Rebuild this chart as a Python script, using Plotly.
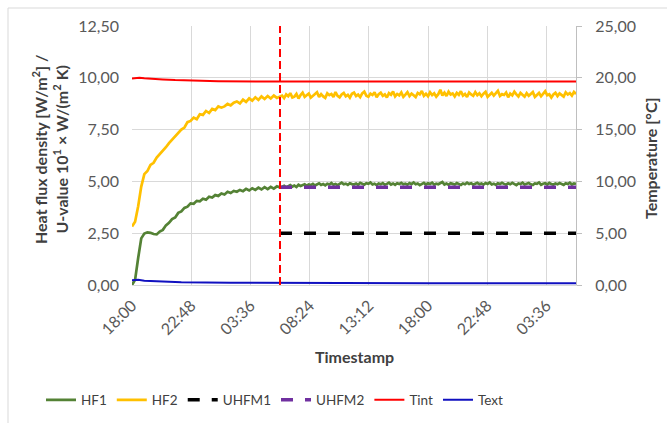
import pandas as pd
import plotly.graph_objects as go

# ---- measurement data -------------------------------------------------------
START = pd.Timestamp("2021-03-01 18:00")

# heat flux sensors [W/m²]
# warm-up phase: one reading every 15 minutes, hour 0 to hour 12
hf1_rise = [
    0.00, 0.25, 1.30, 2.25, 2.48, 2.54, 2.52, 2.46, 2.44, 2.58, 2.66, 2.88,
    3.00, 3.18, 3.26, 3.48, 3.55, 3.72, 3.78, 3.94, 3.92, 4.06, 4.04, 4.16,
    4.12, 4.26, 4.22, 4.34, 4.30, 4.42, 4.37, 4.50, 4.44, 4.54, 4.50, 4.59,
    4.53, 4.64, 4.56, 4.67, 4.59, 4.70, 4.61, 4.72, 4.63, 4.74, 4.65, 4.76,
    4.70,
]
hf2_rise = [
    2.82, 3.05, 3.80, 4.75, 5.35, 5.50, 5.80, 5.90, 6.15, 6.30, 6.50, 6.65,
    6.85, 7.02, 7.18, 7.32, 7.50, 7.60, 7.86, 7.92, 8.08, 8.00, 8.24, 8.21,
    8.40, 8.30, 8.50, 8.44, 8.62, 8.56, 8.62, 8.74, 8.67, 8.80, 8.86, 8.76,
    8.95, 8.84, 9.01, 8.90, 9.06, 8.93, 9.10, 8.98, 9.12, 9.00, 9.14, 9.03,
    9.10,
]
# steady phase: one reading every 10 minutes, 12:10 h to 36 h
hf1_steady = [
    4.74, 4.79, 4.71, 4.77, 4.82, 4.75, 4.80, 4.73, 4.84, 4.78, 4.81, 4.86,
    4.79, 4.85, 4.82, 4.88, 4.80, 4.84, 4.91, 4.83, 4.87, 4.81, 4.89, 4.85,
    4.92, 4.84, 4.88, 4.82, 4.90, 4.94, 4.86, 4.89, 4.83, 4.91, 4.87, 4.85,
    4.90, 4.83, 4.93, 4.87, 4.84, 4.91, 4.88, 4.95, 4.85, 4.89, 4.82, 4.90,
    4.86, 4.92, 4.84, 4.88, 4.94, 4.85, 4.90, 4.83, 4.91, 4.87, 4.93, 4.86,
    4.89, 4.84, 4.92, 4.87, 4.95, 4.86, 4.90, 4.82, 4.88, 4.93, 4.85, 4.91,
    4.87, 4.94, 4.84, 4.89, 4.86, 4.92, 4.97, 4.85, 4.90, 4.83, 4.91, 4.88,
    4.85, 4.92, 4.88, 4.83, 4.90, 4.86, 4.94, 4.87, 4.91, 4.84, 4.89, 4.93,
    4.86, 4.90, 4.84, 4.92, 4.88, 4.95, 4.85, 4.89, 4.83, 4.91, 4.87, 4.93,
    4.88, 4.84, 4.91, 4.86, 4.93, 4.89, 4.82, 4.90, 4.87, 4.94, 4.85, 4.89,
    4.92, 4.86, 4.83, 4.90, 4.88, 4.95, 4.84, 4.89, 4.91, 4.85, 4.93, 4.87,
    4.84, 4.90, 4.86, 4.92, 4.88, 4.83, 4.91, 4.87, 4.94, 4.85, 4.90, 4.88,
]
hf2_steady = [
    9.14, 9.02, 9.20, 9.11, 9.26, 9.05, 9.09, 9.22, 9.00, 9.17, 9.28, 9.08,
    9.15, 9.24, 9.04, 9.12, 9.19, 9.30, 9.07, 9.21, 9.10, 9.03, 9.25, 9.16,
    9.22, 9.08, 9.31, 9.13, 9.06, 9.20, 9.27, 9.11, 9.18, 9.04, 9.23, 9.29,
    9.12, 9.19, 9.07, 9.25, 9.33, 9.14, 9.09, 9.24, 9.17, 9.30, 9.06, 9.21,
    9.28, 9.13, 9.20, 9.05, 9.26, 9.18, 9.34, 9.10, 9.22, 9.15, 9.29, 9.08,
    9.19, 9.31, 9.12, 9.24, 9.16, 9.07, 9.27, 9.20, 9.36, 9.13, 9.23, 9.11,
    9.30, 9.17, 9.25, 9.09, 9.21, 9.42, 9.15, 9.28, 9.12, 9.33, 9.19, 9.24,
    9.10, 9.27, 9.18, 9.35, 9.14, 9.22, 9.07, 9.29, 9.20, 9.13, 9.31, 9.16,
    9.25, 9.11, 9.23, 9.32, 9.08, 9.19, 9.28, 9.14, 9.26, 9.37, 9.12, 9.21,
    9.17, 9.29, 9.06, 9.24, 9.15, 9.33, 9.20, 9.10, 9.27, 9.18, 9.09, 9.26,
    9.13, 9.22, 9.31, 9.08, 9.19, 9.27, 9.11, 9.24, 9.35, 9.16, 9.21, 9.05,
    9.20, 9.28, 9.12, 9.25, 9.17, 9.09, 9.30, 9.19, 9.26, 9.14, 9.32, 9.22,
]

# U-values from the heat flux meter method (×10), valid from hour 12 on
uhfm_hours = [12, 36]
uhfm1 = [2.50, 2.50]
uhfm2 = [4.72, 4.72]

# indoor / outdoor air temperature [°C]
tint_hours = [0, 0.3, 0.6, 1.0, 1.5, 2.5, 3.5, 5, 7, 12, 24, 36]
tint = [19.92, 19.96, 20.00, 19.95, 19.90, 19.84, 19.78, 19.72, 19.67, 19.64, 19.65, 19.65]
text_hours = [0, 0.5, 1, 2, 4, 8, 12, 24, 36]
text = [0.45, 0.50, 0.42, 0.35, 0.26, 0.22, 0.20, 0.18, 0.17]

# start of the U-value evaluation window
cut_hour = 12

tick_labels = ["18:00", "22:48", "03:36", "08:24", "13:12", "18:00", "22:48", "03:36"]
TICK_STEP_MIN = 288

# ---- helpers ----------------------------------------------------------------
def at_hours(hours):
    return [START + pd.Timedelta(hours=h) for h in hours]

rise_times = list(pd.date_range(START, periods=len(hf1_rise), freq="15min"))
steady_times = list(pd.date_range(rise_times[-1] + pd.Timedelta(minutes=10),
                                  periods=len(hf1_steady), freq="10min"))
hf_times = rise_times + steady_times
hf1 = hf1_rise + hf1_steady
hf2 = hf2_rise + hf2_steady

tick_vals = [START + pd.Timedelta(minutes=TICK_STEP_MIN * i) for i in range(len(tick_labels))]

FONT = "Lato"
TICK_COLOR = "#595959"
TITLE_COLOR = "#404040"
GRID = "#D9D9D9"

fig = go.Figure()
fig.add_trace(go.Scatter(x=hf_times, y=hf1, name="HF1", mode="lines",
                         line=dict(color="#548235", width=2.7)))
fig.add_trace(go.Scatter(x=hf_times, y=hf2, name="HF2", mode="lines",
                         line=dict(color="#FFC000", width=2.7)))
fig.add_trace(go.Scatter(x=at_hours(uhfm_hours), y=uhfm1, name="UHFM1", mode="lines",
                         line=dict(color="#000000", width=3.5, dash="12px,12px")))
fig.add_trace(go.Scatter(x=at_hours(uhfm_hours), y=uhfm2, name="UHFM2", mode="lines",
                         line=dict(color="#7030A0", width=3.5, dash="12px,12px")))
fig.add_trace(go.Scatter(x=at_hours(tint_hours), y=tint, name="Tint", mode="lines",
                         line=dict(color="#FF0000", width=2), yaxis="y2"))
fig.add_trace(go.Scatter(x=at_hours(text_hours), y=text, name="Text", mode="lines",
                         line=dict(color="#1010C0", width=2), yaxis="y2"))

# vertical marker at the start of the evaluation window
cut_time = START + pd.Timedelta(hours=cut_hour)
fig.add_shape(type="line", xref="x", yref="paper", x0=cut_time, x1=cut_time, y0=0, y1=1,
              line=dict(color="#FF0000", width=2, dash="8px,4px"), layer="above")

# chart-area frame
L, R, T, B = 132, 91, 26, 138
W, H = 667, 423
pw, ph = W - L - R, H - T - B
def px_x(x):
    return (x - L) / pw
def px_y(y):
    return (H - B - y) / ph

fig.add_shape(type="rect", xref="paper", yref="paper",
              x0=px_x(8), x1=px_x(W + 20), y0=px_y(8), y1=px_y(H + 20),
              line=dict(color=GRID, width=1), fillcolor="rgba(0,0,0,0)", layer="below")

# axis titles
fig.add_annotation(text="<b>Timestamp</b>", xref="paper", yref="paper",
                   x=0.5, y=px_y(356), showarrow=False, yanchor="middle",
                   font=dict(family=FONT, size=16, color=TITLE_COLOR))
fig.add_annotation(text="<b>Heat flux density [W/m<sup>2</sup>] /<br>U-value 10<sup>1</sup> × W/(m<sup>2</sup> K)</b>",
                   xref="paper", yref="paper", x=px_x(50), y=px_y(150),
                   showarrow=False, textangle=-90, xanchor="center", yanchor="middle",
                   font=dict(family=FONT, size=16, color=TITLE_COLOR))
fig.add_annotation(text="<b>Temperature [°C]</b>", xref="paper", yref="paper",
                   x=px_x(650), y=px_y(158), showarrow=False, textangle=-90,
                   xanchor="center", yanchor="middle",
                   font=dict(family=FONT, size=16, color=TITLE_COLOR))

fig.update_layout(
    width=W, height=H, autosize=False,
    margin=dict(l=L, r=R, t=T, b=B, autoexpand=False),
    paper_bgcolor="white", plot_bgcolor="white",
    separators=",.",
    font=dict(family=FONT, size=16, color=TICK_COLOR),
    showlegend=True,
    legend=dict(orientation="h", x=px_x(41), xanchor="left",
                y=px_y(400), yanchor="middle",
                font=dict(family=FONT, size=13.5, color="#404040"),
                bgcolor="rgba(0,0,0,0)", itemwidth=30),
    xaxis=dict(type="date", range=[START, START + pd.Timedelta(hours=36)],
               tickvals=tick_vals, ticktext=tick_labels, tickangle=-45,
               showgrid=True, gridcolor=GRID, gridwidth=1,
               showline=True, linecolor=GRID, zeroline=False, automargin=False,
               ticks="", ticklabelstandoff=4,
               tickfont=dict(family=FONT, size=16, color=TICK_COLOR)),
    yaxis=dict(range=[0, 12.5], dtick=2.5, tick0=0, tickformat=".2f",
               showgrid=True, gridcolor=GRID, gridwidth=1, automargin=False,
               showline=False, zeroline=False, ticks="", ticklabelstandoff=12,
               tickfont=dict(family=FONT, size=16, color=TICK_COLOR)),
    yaxis2=dict(range=[0, 25], dtick=5, tick0=0, tickformat=".2f",
                overlaying="y", side="right", showgrid=False, automargin=False,
                showline=True, linecolor="#BFBFBF", linewidth=1,
                ticks="outside", ticklen=5, tickcolor="#BFBFBF",
                zeroline=False, ticklabelstandoff=10,
                tickfont=dict(family=FONT, size=16, color=TICK_COLOR)),
)

fig.write_html("out.html")
